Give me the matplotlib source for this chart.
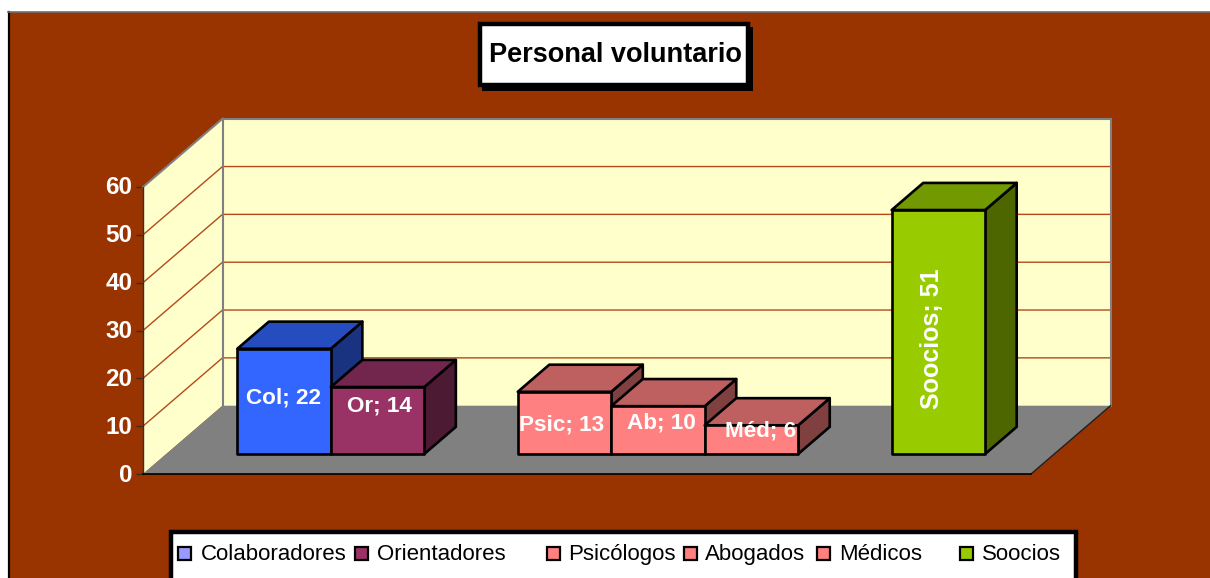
import matplotlib
matplotlib.use('Agg')
import matplotlib.pyplot as plt
from matplotlib.patches import Polygon, Rectangle
from matplotlib.transforms import ScaledTranslation

plt.rcParams['font.family'] = ['Liberation Sans', 'DejaVu Sans']

# data
short_names = ['Col', 'Or', 'Psic', 'Ab', 'Méd', 'Soocios']
legend_names = ['Colaboradores', 'Orientadores', 'Psicólogos', 'Abogados', 'Médicos', 'Soocios']
values = [22, 14, 13, 10, 6, 51]
slots = [0, 1, 3, 4, 5, 7]
y_ticks = [0, 10, 20, 30, 40, 50, 60]
title = 'Personal voluntario'

# styles
bar_colors = ['#3366FF', '#993366', '#FF8080', '#FF8080', '#FF8080', '#99CC00']
legend_colors = ['#9999FF', '#993366', '#FF8080', '#FF8080', '#FF8080', '#99CC00']
brown = '#993300'
wall = '#FFFFCC'
floor = '#808080'

W, H = 1210, 578
fig = plt.figure(figsize=(W / 100, H / 100), dpi=100, facecolor='white')

# chart frame, title box and legend live in a pixel-sized layer
bg = fig.add_axes([0, 0, 1, 1], zorder=0)
bg.set_xlim(0, W)
bg.set_ylim(H, 0)
bg.axis('off')
bg.add_patch(Rectangle((9, 12), W, H, facecolor=brown, edgecolor='none'))
bg.plot([8.5, 8.5], [12, H], color='black', lw=1.6)
bg.plot([8, W], [12, 12], color='#707070', lw=1.2)

# main axes: x in bar slots, y in chart values
px_x0, px_x1, px_y0, px_y60 = 143, 1031, 474, 187
x_min, x_max = -0.76, 8.74
ax = fig.add_axes([px_x0 / W, 1 - px_y0 / H, (px_x1 - px_x0) / W, (px_y0 - px_y60) / H], zorder=1)
ax.set_xlim(x_min, x_max)
ax.set_ylim(0, 60)
ax.patch.set_visible(False)

slot_px = (px_x1 - px_x0) / (x_max - x_min)
val_px = (px_y0 - px_y60) / 60.0
depth_dx = 79.5 / slot_px
depth_dy = 68.3 / val_px


def proj(x, v, d):
    # d is depth, 0 = front of the floor, 1 = back wall
    return (x + d * depth_dx, v + d * depth_dy)


def poly(points, color, z, edge='none', lw=0):
    ax.add_patch(Polygon(points, closed=True, facecolor=color, edgecolor=edge,
                         linewidth=lw, zorder=z, clip_on=False, joinstyle='round'))


top = y_ticks[-1]
poly([proj(x_min, 0, 0), proj(x_min, top, 0), proj(x_min, top, 1), proj(x_min, 0, 1)], wall, 1)
poly([proj(x_min, 0, 1), proj(x_min, top, 1), proj(x_max, top, 1), proj(x_max, 0, 1)], wall, 1)
poly([proj(x_min, 0, 0), proj(x_min, 0, 1), proj(x_max, 0, 1), proj(x_max, 0, 0)], floor, 2)

for t in y_ticks[1:-1]:
    a, b, c = proj(x_min, t, 0), proj(x_min, t, 1), proj(x_max, t, 1)
    ax.plot([a[0], b[0], c[0]], [a[1], b[1], c[1]], color='#B5491A', lw=1.0, zorder=1.5,
            clip_on=False, solid_joinstyle='miter')

# wall outline
for p, q, col, lw in [(proj(x_min, top, 0), proj(x_min, top, 1), '#808080', 1.5),
                      (proj(x_min, top, 1), proj(x_max, top, 1), '#808080', 1.5),
                      (proj(x_min, 0, 1), proj(x_min, top, 1), '#808080', 1.5),
                      (proj(x_max, 0, 1), proj(x_max, top, 1), '#808080', 1.5),
                      (proj(x_max, 0, 0), proj(x_max, 0, 1), '#202020', 1.0)]:
    ax.plot([p[0], q[0]], [p[1], q[1]], color=col, lw=lw, zorder=2.5, clip_on=False)


def shade(color, f):
    rgb = matplotlib.colors.to_rgb(color)
    return tuple(c * f for c in rgb)


# bars
d0, d1 = 0.293, 0.69
label_offsets = [(-1, 3.5), (2, 15), (-3, -2), (3, 7), (9, 8.5), (-6, -7)]
for i, (s, v, col) in enumerate(zip(slots, values, bar_colors)):
    z = 3 + i
    x0, x1 = s, s + 1
    poly([proj(x1, 0, d0), proj(x1, v, d0), proj(x1, v, d1), proj(x1, 0, d1)],
         shade(col, 0.5), z, 'black', 1.9)
    poly([proj(x0, v, d0), proj(x0, v, d1), proj(x1, v, d1), proj(x1, v, d0)],
         shade(col, 0.75), z, 'black', 1.9)
    poly([proj(x0, 0, d0), proj(x0, v, d0), proj(x1, v, d0), proj(x1, 0, d0)],
         col, z + 0.1, 'black', 1.9)
    cx, cy = proj(s + 0.5, v / 2.0, d0)
    off = label_offsets[i]
    vertical = legend_names[i] == 'Soocios'
    ax.annotate('%s; %d' % (short_names[i], v), (cx, cy),
                xytext=(off[0] * 0.72, off[1] * 0.72), textcoords='offset points',
                ha='center', va='center', color='white', fontweight='bold',
                fontsize=18 if vertical else 16.2, rotation=90 if vertical else 0, zorder=20,
                annotation_clip=False)

ax.set_yticks(y_ticks)
ax.set_xticks([])
ax.tick_params(axis='y', length=5, width=1, color='#3A2A20', labelcolor='white', pad=2.5)
tick_shift = ScaledTranslation(0, 1.5 / 100, fig.dpi_scale_trans)
for lab in ax.get_yticklabels():
    lab.set_fontsize(17.5)
    lab.set_fontweight('bold')
    lab.set_transform(lab.get_transform() + tick_shift)
for side in ['top', 'right']:
    ax.spines[side].set_visible(False)
ax.spines['left'].set_color('#303030')
ax.spines['left'].set_linewidth(1.0)
ax.spines['left'].set_zorder(3)
ax.spines['bottom'].set_color('black')
ax.spines['bottom'].set_linewidth(1.2)
ax.spines['bottom'].set_zorder(3)

# title box with shadow
bg.add_patch(Rectangle((482, 27), 271, 64, facecolor='black', edgecolor='none', zorder=3))
bg.add_patch(Rectangle((479.5, 23.5), 268, 61, facecolor='white', edgecolor='black', lw=3.2, zorder=4))
bg.text(615, 55, title, ha='center', va='center', fontsize=19.5, fontweight='bold',
        color='black', zorder=5)

# legend
bg.add_patch(Rectangle((171, 531.5), 904.5, 60, facecolor='white', edgecolor='black', lw=3.2,
                       zorder=3, clip_on=True))
swatch_x = [178, 355, 547, 684, 817, 960]
text_x = [201, 377, 568, 705, 839, 982]
for name, col, sx, tx in zip(legend_names, legend_colors, swatch_x, text_x):
    bg.add_patch(Rectangle((sx, 547), 12.5, 12.5, facecolor=col, edgecolor='black', lw=1.6, zorder=4))
    bg.text(tx, 560, name, ha='left', va='baseline', fontsize=16, color='black', zorder=5)

fig.savefig('out.png', dpi=100, facecolor='white')
